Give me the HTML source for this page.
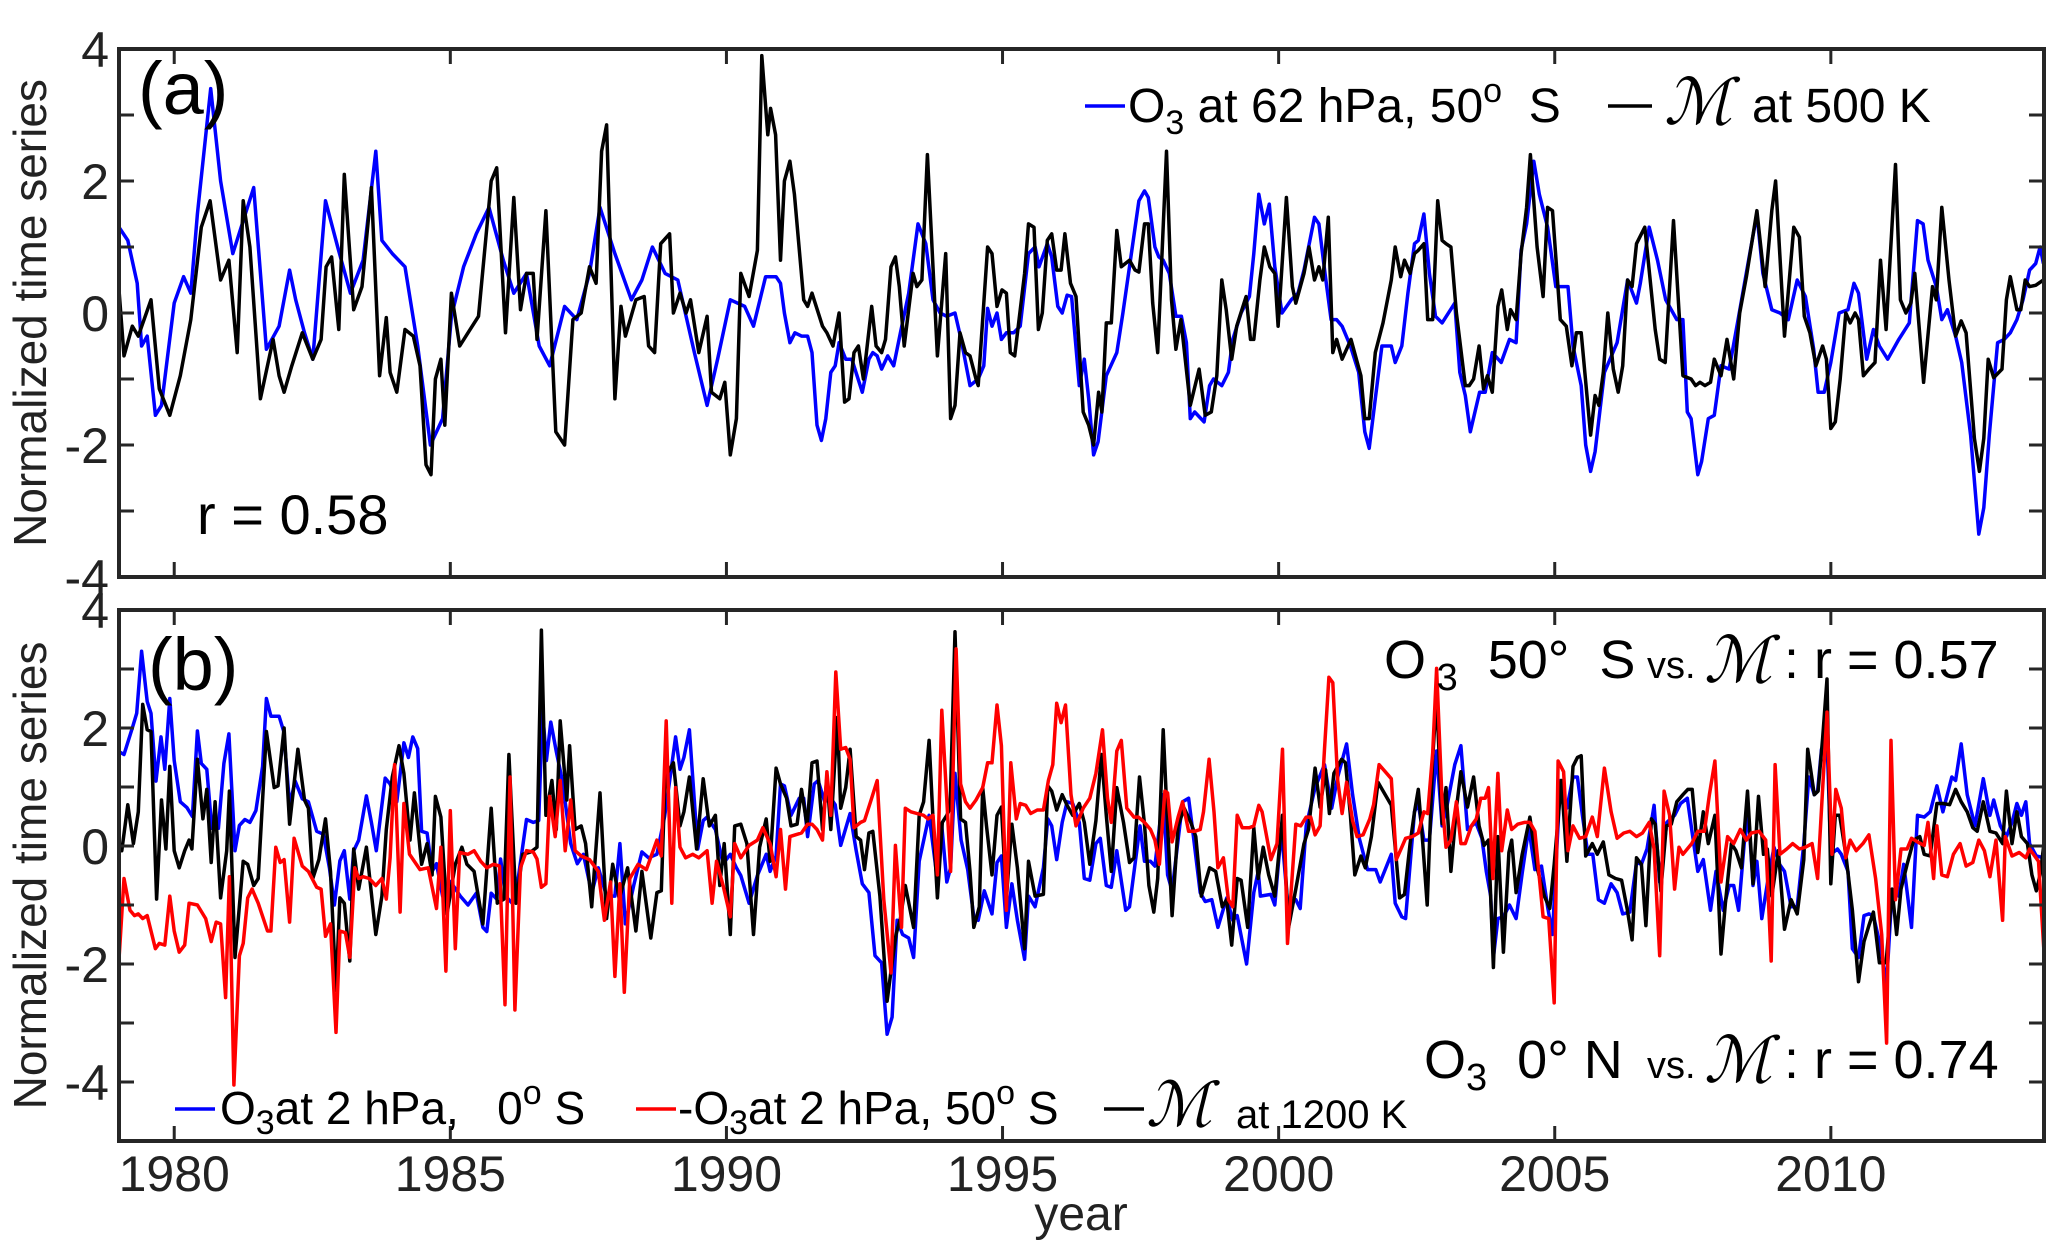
<!DOCTYPE html>
<html><head><meta charset="utf-8"><style>
html,body{margin:0;padding:0;background:#fff;}
svg{display:block;font-family:"Liberation Sans",Arial,sans-serif;}
</style></head><body>
<svg id="chart" width="2067" height="1258" viewBox="0 0 2067 1258" xmlns="http://www.w3.org/2000/svg">
<rect width="2067" height="1258" fill="#fff"/>
<g id="gA"></g>
<g id="gB"></g>
</svg>
<script>
const xTicks=[1980,1985,1990,1995,2000,2005,2010];
const yTicksMajor=[-4,-2,0,2,4];
const yTicksMinor=[-3,-1,1,3];
const aBlue=[[1979.0,1.3],[1979.16,1.1],[1979.33,0.45],[1979.41,-0.5],[1979.51,-0.35],[1979.66,-1.55],[1979.77,-1.4],[1980.0,0.15],[1980.17,0.55],[1980.30,0.3],[1980.42,1.5],[1980.66,3.4],[1980.84,2.0],[1981.06,0.9],[1981.44,1.9],[1981.67,-0.55],[1981.90,-0.2],[1982.09,0.65],[1982.20,0.2],[1982.36,-0.3],[1982.51,-0.7],[1982.74,1.7],[1982.96,1.0],[1983.19,0.3],[1983.42,0.8],[1983.65,2.45],[1983.76,1.1],[1983.95,0.9],[1984.18,0.7],[1984.41,-0.5],[1984.64,-2.0],[1984.86,-1.6],[1985.02,-0.05],[1985.24,0.7],[1985.47,1.2],[1985.70,1.6],[1985.96,0.8],[1986.15,0.3],[1986.38,0.6],[1986.61,-0.5],[1986.80,-0.8],[1987.07,0.1],[1987.29,-0.1],[1987.52,0.6],[1987.71,1.6],[1987.98,0.9],[1988.28,0.2],[1988.47,0.5],[1988.66,1.0],[1988.89,0.6],[1989.12,0.5],[1989.42,-0.6],[1989.65,-1.4],[1989.84,-0.7],[1990.07,0.2],[1990.33,0.1],[1990.49,-0.2],[1990.71,0.55],[1990.90,0.55],[1990.98,0.45],[1991.05,0.0],[1991.15,-0.45],[1991.24,-0.3],[1991.36,-0.35],[1991.47,-0.35],[1991.55,-0.6],[1991.64,-1.7],[1991.72,-1.93],[1991.80,-1.6],[1991.89,-0.9],[1991.97,-0.8],[1992.04,-0.45],[1992.16,-0.7],[1992.27,-0.7],[1992.46,-1.2],[1992.58,-0.7],[1992.65,-0.6],[1992.73,-0.65],[1992.81,-0.85],[1992.92,-0.65],[1993.03,-0.8],[1993.15,-0.3],[1993.30,0.3],[1993.47,1.35],[1993.61,1.05],[1993.74,0.2],[1993.87,0.0],[1993.99,-0.05],[1994.14,0.0],[1994.25,-0.4],[1994.41,-1.1],[1994.56,-1.0],[1994.66,-0.8],[1994.73,0.07],[1994.81,-0.2],[1994.90,0.0],[1994.98,-0.4],[1995.07,-0.3],[1995.20,-0.3],[1995.32,-0.2],[1995.47,0.9],[1995.59,1.0],[1995.66,0.7],[1995.81,1.05],[1995.89,0.85],[1996.00,0.1],[1996.08,0.0],[1996.17,0.27],[1996.25,0.25],[1996.39,-1.1],[1996.48,-0.7],[1996.56,-1.3],[1996.65,-2.15],[1996.73,-1.95],[1996.88,-0.95],[1997.07,-0.6],[1997.18,0.0],[1997.30,0.7],[1997.47,1.7],[1997.57,1.85],[1997.64,1.75],[1997.76,1.0],[1997.83,0.85],[1997.91,0.8],[1998.02,0.6],[1998.14,-0.05],[1998.24,-0.05],[1998.33,-0.45],[1998.40,-1.6],[1998.48,-1.5],[1998.65,-1.65],[1998.75,-1.1],[1998.82,-1.0],[1998.97,-1.1],[1999.09,-0.9],[1999.17,-0.4],[1999.32,0.0],[1999.47,0.25],[1999.55,0.9],[1999.64,1.8],[1999.74,1.35],[1999.83,1.65],[1999.93,0.7],[2000.06,0.0],[2000.23,0.2],[2000.35,0.3],[2000.46,0.65],[2000.65,1.45],[2000.73,1.35],[2000.84,0.6],[2000.95,-0.1],[2001.05,-0.1],[2001.15,-0.2],[2001.30,-0.5],[2001.45,-0.9],[2001.56,-1.8],[2001.64,-2.05],[2001.75,-1.3],[2001.87,-0.5],[2002.04,-0.5],[2002.11,-0.75],[2002.23,-0.5],[2002.34,0.3],[2002.46,1.05],[2002.53,1.1],[2002.63,1.5],[2002.73,0.6],[2002.84,-0.05],[2002.96,-0.15],[2003.19,0.15],[2003.28,-0.9],[2003.38,-1.25],[2003.47,-1.8],[2003.64,-1.2],[2003.74,-1.2],[2003.87,-0.6],[2004.03,-0.75],[2004.18,-0.4],[2004.30,-0.45],[2004.39,0.95],[2004.49,1.35],[2004.62,2.3],[2004.72,1.8],[2004.87,1.3],[2005.02,0.4],[2005.24,0.4],[2005.33,-0.5],[2005.48,-1.1],[2005.56,-2.0],[2005.65,-2.4],[2005.73,-2.1],[2005.90,-0.9],[2006.13,-0.45],[2006.32,0.5],[2006.48,0.15],[2006.55,0.45],[2006.71,1.3],[2006.86,0.8],[2007.01,0.2],[2007.21,-0.1],[2007.32,-0.1],[2007.40,-1.5],[2007.47,-1.6],[2007.59,-2.45],[2007.66,-2.25],[2007.78,-1.6],[2007.89,-1.55],[2008.01,-0.8],[2008.16,-0.85],[2008.32,-0.1],[2008.51,0.8],[2008.66,1.5],[2008.77,0.6],[2008.93,0.05],[2009.08,0.0],[2009.23,-0.1],[2009.39,0.5],[2009.54,0.25],[2009.69,-0.55],[2009.77,-1.2],[2009.88,-1.2],[2010.00,-0.75],[2010.15,0.0],[2010.31,0.05],[2010.42,0.45],[2010.50,0.3],[2010.65,-0.7],[2010.77,-0.25],[2010.88,-0.5],[2011.03,-0.7],[2011.23,-0.4],[2011.42,-0.15],[2011.57,1.4],[2011.67,1.35],[2011.76,0.8],[2011.91,0.4],[2012.01,-0.1],[2012.11,0.05],[2012.26,-0.35],[2012.37,-0.75],[2012.53,-1.85],[2012.68,-3.35],[2012.77,-2.95],[2012.87,-1.85],[2013.02,-0.45],[2013.14,-0.4],[2013.25,-0.3],[2013.37,-0.1],[2013.48,0.2],[2013.60,0.65],[2013.71,0.75],[2013.79,1.0],[2013.85,0.75]];
const aBlack=[[1979.0,0.35],[1979.09,-0.65],[1979.24,-0.2],[1979.35,-0.35],[1979.58,0.2],[1979.73,-1.15],[1979.92,-1.55],[1980.11,-0.95],[1980.30,-0.1],[1980.49,1.3],[1980.65,1.7],[1980.84,0.5],[1980.99,0.8],[1981.14,-0.6],[1981.25,1.7],[1981.37,1.0],[1981.56,-1.3],[1981.79,-0.4],[1981.90,-0.95],[1981.99,-1.2],[1982.13,-0.8],[1982.32,-0.3],[1982.51,-0.7],[1982.66,-0.4],[1982.75,0.7],[1982.85,0.85],[1982.98,-0.25],[1983.08,2.1],[1983.25,0.05],[1983.40,0.4],[1983.57,1.9],[1983.72,-0.95],[1983.84,-0.07],[1983.91,-0.9],[1984.03,-1.2],[1984.18,-0.25],[1984.33,-0.35],[1984.45,-0.8],[1984.56,-2.3],[1984.65,-2.45],[1984.73,-1.0],[1984.83,-0.7],[1984.90,-1.7],[1985.02,0.3],[1985.17,-0.5],[1985.32,-0.3],[1985.51,-0.05],[1985.74,2.0],[1985.84,2.2],[1986.00,-0.3],[1986.15,1.75],[1986.27,0.05],[1986.38,0.6],[1986.50,0.6],[1986.57,-0.4],[1986.73,1.55],[1986.91,-1.8],[1987.07,-2.0],[1987.22,-0.1],[1987.37,0.0],[1987.52,0.7],[1987.64,0.45],[1987.74,2.45],[1987.83,2.85],[1987.98,-1.3],[1988.09,0.1],[1988.17,-0.35],[1988.36,0.2],[1988.51,0.25],[1988.59,-0.5],[1988.70,-0.6],[1988.81,1.05],[1988.97,1.2],[1989.04,0.0],[1989.16,0.3],[1989.27,0.0],[1989.35,0.2],[1989.50,-0.6],[1989.65,-0.05],[1989.73,-1.2],[1989.88,-1.3],[1989.97,-1.05],[1990.07,-2.15],[1990.18,-1.6],[1990.26,0.6],[1990.41,0.25],[1990.56,0.95],[1990.64,3.9],[1990.75,2.7],[1990.80,3.1],[1990.89,2.7],[1990.98,0.8],[1991.05,2.0],[1991.15,2.3],[1991.23,1.8],[1991.40,0.2],[1991.47,0.1],[1991.55,0.3],[1991.74,-0.2],[1991.82,-0.3],[1991.93,-0.5],[1992.04,0.0],[1992.14,-1.35],[1992.22,-1.3],[1992.31,-0.6],[1992.39,-0.5],[1992.48,-1.0],[1992.63,0.1],[1992.71,-0.5],[1992.81,-0.6],[1992.88,-0.4],[1992.98,0.7],[1993.06,0.85],[1993.13,0.4],[1993.22,-0.5],[1993.38,0.6],[1993.45,0.4],[1993.54,0.5],[1993.64,2.4],[1993.82,-0.65],[1993.97,0.9],[1994.06,-1.6],[1994.14,-1.4],[1994.23,-0.3],[1994.33,-0.6],[1994.41,-0.65],[1994.52,-1.0],[1994.56,-1.1],[1994.73,1.0],[1994.81,0.9],[1994.90,0.1],[1994.99,0.35],[1995.07,0.3],[1995.14,-0.6],[1995.22,-0.65],[1995.40,0.6],[1995.47,1.35],[1995.57,1.3],[1995.65,-0.25],[1995.72,0.0],[1995.81,1.1],[1995.89,1.2],[1995.98,0.65],[1996.06,0.65],[1996.13,1.2],[1996.23,0.45],[1996.33,0.25],[1996.46,-1.5],[1996.56,-1.7],[1996.65,-2.0],[1996.74,-1.2],[1996.80,-1.5],[1996.88,-0.15],[1996.97,-0.15],[1997.07,1.25],[1997.15,0.7],[1997.30,0.8],[1997.40,0.65],[1997.47,0.62],[1997.57,1.35],[1997.64,1.35],[1997.72,0.15],[1997.81,-0.6],[1997.97,2.45],[1998.06,0.2],[1998.14,-0.55],[1998.23,-0.1],[1998.40,-1.4],[1998.56,-0.85],[1998.67,-1.55],[1998.78,-1.5],[1998.88,-0.95],[1998.97,0.5],[1999.05,0.05],[1999.15,-0.7],[1999.24,-0.2],[1999.41,0.25],[1999.49,-0.4],[1999.55,-0.4],[1999.66,0.5],[1999.74,1.0],[1999.84,0.7],[1999.93,0.6],[1999.99,-0.2],[2000.14,1.75],[2000.25,0.4],[2000.31,0.15],[2000.46,0.6],[2000.55,1.0],[2000.65,0.5],[2000.73,0.7],[2000.80,0.5],[2000.90,1.45],[2000.98,-0.6],[2001.05,-0.4],[2001.15,-0.7],[2001.31,-0.4],[2001.49,-0.95],[2001.56,-1.6],[2001.64,-1.6],[2001.75,-0.6],[2001.89,-0.15],[2002.04,0.5],[2002.11,1.0],[2002.21,0.55],[2002.28,0.8],[2002.38,0.6],[2002.46,0.9],[2002.53,0.95],[2002.63,1.05],[2002.70,-0.1],[2002.79,-0.1],[2002.88,1.7],[2002.96,1.1],[2003.03,1.05],[2003.12,1.0],[2003.22,0.0],[2003.38,-1.1],[2003.45,-1.1],[2003.53,-1.0],[2003.63,-0.5],[2003.71,-1.15],[2003.78,-0.95],[2003.87,-1.2],[2003.97,0.1],[2004.04,0.35],[2004.14,-0.25],[2004.20,0.05],[2004.30,-0.1],[2004.39,0.9],[2004.49,1.6],[2004.56,2.4],[2004.68,1.0],[2004.79,0.25],[2004.87,1.6],[2004.96,1.55],[2005.10,-0.1],[2005.21,-0.2],[2005.31,-0.8],[2005.39,-0.3],[2005.48,-0.3],[2005.65,-1.85],[2005.73,-1.25],[2005.80,-1.4],[2005.88,-0.9],[2005.96,0.0],[2006.06,-0.85],[2006.15,-1.2],[2006.23,-0.8],[2006.32,0.5],[2006.40,0.4],[2006.48,1.05],[2006.63,1.3],[2006.82,-0.25],[2006.90,-0.7],[2007.00,-0.75],[2007.15,1.4],[2007.26,-0.1],[2007.32,-0.95],[2007.47,-1.0],[2007.55,-1.1],[2007.63,-1.05],[2007.72,-1.1],[2007.82,-1.05],[2007.89,-0.7],[2008.01,-0.95],[2008.12,-0.4],[2008.24,-1.0],[2008.35,0.0],[2008.47,0.55],[2008.66,1.55],[2008.81,0.4],[2008.93,1.55],[2009.00,2.0],[2009.16,-0.35],[2009.33,1.3],[2009.43,1.15],[2009.52,-0.05],[2009.62,-0.3],[2009.73,-0.8],[2009.85,-0.5],[2009.92,-0.7],[2010.00,-1.75],[2010.08,-1.65],[2010.17,-1.0],[2010.27,0.0],[2010.35,-0.15],[2010.44,0.0],[2010.50,-0.1],[2010.59,-0.95],[2010.69,-0.85],[2010.80,-0.75],[2010.90,0.8],[2011.00,-0.25],[2011.17,2.25],[2011.26,0.2],[2011.36,0.0],[2011.45,0.15],[2011.52,0.6],[2011.68,-1.05],[2011.84,0.4],[2011.91,0.2],[2012.01,1.6],[2012.14,0.5],[2012.26,-0.35],[2012.36,-0.12],[2012.45,-0.3],[2012.60,-1.9],[2012.69,-2.4],[2012.77,-1.9],[2012.85,-0.7],[2012.95,-0.98],[2013.10,-0.85],[2013.18,0.2],[2013.25,0.55],[2013.37,0.05],[2013.44,0.05],[2013.52,0.5],[2013.60,0.4],[2013.71,0.42],[2013.85,0.5]];
const bBlue=[[1979.0,1.6],[1979.09,1.55],[1979.24,2.0],[1979.32,2.25],[1979.41,3.3],[1979.51,2.45],[1979.58,2.25],[1979.67,1.1],[1979.76,1.85],[1979.83,1.3],[1979.92,2.5],[1980.0,1.45],[1980.11,0.75],[1980.23,0.65],[1980.33,0.5],[1980.42,1.95],[1980.49,1.4],[1980.59,1.3],[1980.68,0.3],[1980.80,0.3],[1980.90,1.4],[1980.99,1.9],[1981.10,-0.08],[1981.18,0.35],[1981.28,0.45],[1981.37,0.4],[1981.48,0.6],[1981.60,1.35],[1981.67,2.5],[1981.75,2.2],[1981.90,2.2],[1981.98,1.95],[1982.09,0.7],[1982.19,1.1],[1982.32,0.8],[1982.43,0.75],[1982.58,0.25],[1982.70,0.2],[1982.81,-0.37],[1982.90,-1.0],[1983.00,-0.25],[1983.08,-0.08],[1983.18,-0.9],[1983.25,-0.08],[1983.34,0.1],[1983.48,0.85],[1983.57,0.4],[1983.66,-0.08],[1983.82,1.15],[1983.91,1.05],[1984.03,0.75],[1984.16,1.75],[1984.24,1.5],[1984.32,1.85],[1984.41,1.65],[1984.48,0.25],[1984.58,0.22],[1984.67,-0.43],[1984.75,-0.3],[1984.86,-0.85],[1985.00,-0.6],[1985.18,-0.85],[1985.32,-1.0],[1985.47,-0.8],[1985.59,-1.38],[1985.66,-1.45],[1985.74,-0.8],[1985.84,-0.9],[1985.91,-0.22],[1986.00,-0.85],[1986.12,-0.97],[1986.23,-0.55],[1986.38,0.45],[1986.50,0.4],[1986.60,0.43],[1986.67,2.3],[1986.74,1.45],[1986.82,2.1],[1986.92,1.6],[1987.03,1.1],[1987.18,0.04],[1987.30,-0.3],[1987.41,-0.14],[1987.56,-0.8],[1987.68,-0.37],[1987.83,-0.85],[1987.98,-0.85],[1988.07,0.04],[1988.17,-1.32],[1988.32,-0.67],[1988.47,-0.1],[1988.59,-0.2],[1988.74,-0.14],[1988.88,0.5],[1988.97,1.1],[1989.08,1.85],[1989.16,1.3],[1989.23,1.5],[1989.33,1.97],[1989.48,-0.05],[1989.58,0.43],[1989.65,0.49],[1989.80,0.28],[1989.94,-0.3],[1990.07,-0.14],[1990.18,-0.37],[1990.26,-0.5],[1990.41,-0.97],[1990.56,-0.5],[1990.72,-0.14],[1990.79,-0.43],[1990.90,-0.17],[1990.98,1.05],[1991.05,1.02],[1991.17,0.52],[1991.32,0.81],[1991.40,0.81],[1991.47,0.16],[1991.59,1.05],[1991.66,1.11],[1991.78,0.75],[1991.89,0.81],[1991.97,0.7],[1992.07,0.01],[1992.24,0.55],[1992.35,-0.08],[1992.46,-0.64],[1992.58,-0.79],[1992.69,-1.86],[1992.81,-1.98],[1992.91,-3.19],[1993.00,-2.9],[1993.09,-1.26],[1993.19,-1.5],[1993.30,-1.56],[1993.39,-1.89],[1993.49,-0.26],[1993.67,0.52],[1993.80,-0.43],[1993.90,0.34],[1993.99,-0.61],[1994.06,-0.37],[1994.14,1.23],[1994.25,0.1],[1994.37,-0.4],[1994.48,-1.2],[1994.56,-1.26],[1994.67,-0.76],[1994.81,-1.15],[1994.90,-0.28],[1994.98,-0.17],[1995.07,-1.38],[1995.17,-0.64],[1995.27,-1.26],[1995.40,-1.92],[1995.47,-0.85],[1995.59,-1.03],[1995.74,-0.37],[1995.82,0.46],[1995.89,0.34],[1995.98,-0.23],[1996.08,0.4],[1996.17,0.75],[1996.27,0.72],[1996.39,0.4],[1996.48,-0.55],[1996.58,-0.58],[1996.69,0.04],[1996.77,0.13],[1996.88,-0.67],[1996.97,-0.7],[1997.07,-0.08],[1997.23,-1.09],[1997.30,-1.03],[1997.49,0.34],[1997.57,-0.26],[1997.68,-0.26],[1997.76,-0.34],[1997.91,0.87],[1997.99,-0.49],[1998.07,-0.76],[1998.26,0.75],[1998.37,0.81],[1998.45,0.22],[1998.58,-0.79],[1998.67,-0.94],[1998.79,-0.91],[1998.90,-1.38],[1999.06,-0.88],[1999.17,-1.26],[1999.25,-1.18],[1999.42,-2.0],[1999.55,-0.79],[1999.63,-0.43],[1999.67,-0.85],[1999.86,-0.82],[1999.93,-1.0],[2000.05,0.28],[2000.16,-0.94],[2000.31,-0.91],[2000.39,-1.06],[2000.50,0.34],[2000.66,0.99],[2000.83,1.38],[2000.96,0.64],[2001.07,1.17],[2001.23,1.73],[2001.34,0.87],[2001.46,0.13],[2001.61,-0.4],[2001.76,-0.4],[2001.84,-0.61],[2002.04,-0.14],[2002.11,-0.97],[2002.23,-1.2],[2002.30,-1.23],[2002.38,-0.31],[2002.46,0.58],[2002.53,0.72],[2002.63,0.1],[2002.73,0.1],[2002.86,1.61],[2002.96,0.34],[2003.05,0.69],[2003.19,1.38],[2003.30,1.7],[2003.42,0.28],[2003.57,0.4],[2003.68,0.13],[2003.76,-0.43],[2003.84,-0.85],[2003.89,-1.89],[2003.97,-1.23],[2004.07,-1.2],[2004.18,-1.0],[2004.30,-1.23],[2004.41,-0.46],[2004.53,0.31],[2004.64,-0.4],[2004.76,-0.34],[2004.87,-1.03],[2004.96,-1.5],[2005.10,1.11],[2005.22,0.64],[2005.33,1.17],[2005.41,1.17],[2005.50,0.52],[2005.60,-0.14],[2005.69,-0.14],[2005.79,-0.91],[2005.90,-0.97],[2006.02,-0.64],[2006.13,-0.79],[2006.23,-1.15],[2006.36,-1.12],[2006.48,-0.28],[2006.57,-0.31],[2006.67,-0.05],[2006.80,0.69],[2006.90,-0.61],[2007.03,0.4],[2007.17,0.52],[2007.28,0.72],[2007.40,0.81],[2007.48,0.28],[2007.59,-0.43],[2007.69,-0.23],[2007.82,-1.09],[2007.92,-0.43],[2008.05,-1.09],[2008.16,-0.67],[2008.24,-0.67],[2008.33,-1.09],[2008.43,0.04],[2008.51,0.52],[2008.59,-0.67],[2008.66,-0.26],[2008.75,-1.23],[2008.85,-0.64],[2008.97,-0.02],[2009.07,-0.31],[2009.16,-0.43],[2009.28,-1.03],[2009.39,-1.03],[2009.51,0.04],[2009.60,1.17],[2009.70,0.87],[2009.76,0.93],[2009.83,1.64],[2009.93,1.82],[2010.00,-0.14],[2010.12,-0.05],[2010.19,-0.14],[2010.31,-0.43],[2010.39,-1.74],[2010.50,-1.89],[2010.60,-1.18],[2010.69,-1.15],[2010.77,-1.18],[2010.88,-1.62],[2011.01,-2.33],[2011.11,-0.73],[2011.23,-0.85],[2011.32,-0.31],[2011.46,-1.38],[2011.57,0.52],[2011.69,0.49],[2011.80,0.58],[2011.92,1.02],[2012.03,0.58],[2012.19,1.17],[2012.26,1.11],[2012.36,1.73],[2012.47,0.87],[2012.61,0.34],[2012.76,1.14],[2012.88,0.52],[2012.95,0.78],[2013.07,0.34],[2013.18,0.16],[2013.28,0.4],[2013.37,0.72],[2013.45,0.52],[2013.53,0.75],[2013.60,0.04],[2013.72,-0.17],[2013.86,-0.2]];
const bBlack=[[1979.0,-0.05],[1979.05,-0.08],[1979.16,0.7],[1979.26,0.04],[1979.35,0.58],[1979.43,2.4],[1979.51,1.97],[1979.58,1.94],[1979.68,-0.9],[1979.77,0.78],[1979.85,-0.05],[1979.92,1.35],[1980.0,-0.08],[1980.09,-0.37],[1980.19,-0.08],[1980.27,0.1],[1980.32,-0.05],[1980.42,1.47],[1980.52,0.46],[1980.59,0.96],[1980.67,-0.28],[1980.74,0.75],[1980.84,-0.88],[1980.95,-0.08],[1981.0,0.93],[1981.10,-1.89],[1981.25,-0.26],[1981.33,-0.31],[1981.44,-0.67],[1981.52,-0.55],[1981.67,1.94],[1981.81,0.99],[1981.88,1.02],[1981.99,2.0],[1982.09,0.37],[1982.24,1.64],[1982.36,0.78],[1982.43,0.64],[1982.51,-0.55],[1982.62,-0.23],[1982.74,0.46],[1982.83,-0.43],[1982.93,-2.45],[1983.0,-0.88],[1983.08,-0.97],[1983.18,-1.95],[1983.25,-0.05],[1983.34,-0.73],[1983.48,-0.02],[1983.65,-1.5],[1983.76,-0.85],[1983.84,0.28],[1983.95,1.17],[1984.07,1.7],[1984.16,1.23],[1984.27,0.1],[1984.35,0.9],[1984.48,-0.31],[1984.58,0.04],[1984.67,-0.49],[1984.73,0.84],[1984.83,0.49],[1984.94,-1.15],[1985.09,-0.31],[1985.21,-0.02],[1985.30,-0.31],[1985.43,-0.43],[1985.59,-1.32],[1985.74,0.64],[1985.85,-0.97],[1985.97,-0.9],[1986.06,1.55],[1986.19,-0.97],[1986.31,-0.14],[1986.46,-0.1],[1986.57,-0.02],[1986.65,3.66],[1986.73,0.52],[1986.84,1.11],[1986.92,0.28],[1986.99,2.12],[1987.11,0.78],[1987.16,1.7],[1987.26,0.28],[1987.37,0.34],[1987.45,0.04],[1987.56,-1.03],[1987.71,0.9],[1987.83,-1.23],[1987.94,-0.31],[1988.06,-0.9],[1988.21,-0.37],[1988.36,-1.44],[1988.47,-0.43],[1988.63,-1.56],[1988.74,-0.79],[1988.82,-0.76],[1988.89,1.17],[1989.04,1.41],[1989.16,0.34],[1989.23,0.58],[1989.33,1.17],[1989.46,-0.05],[1989.58,1.14],[1989.69,0.34],[1989.80,0.52],[1989.88,-0.67],[1989.96,0.04],[1990.07,-1.5],[1990.15,0.34],[1990.26,0.37],[1990.37,0.04],[1990.49,-1.5],[1990.60,-0.02],[1990.72,0.46],[1990.79,-0.26],[1990.90,1.32],[1990.98,1.05],[1991.09,0.81],[1991.17,0.34],[1991.28,0.37],[1991.36,0.96],[1991.46,0.34],[1991.55,1.41],[1991.64,1.44],[1991.74,0.28],[1991.82,1.17],[1991.89,0.28],[1992.01,2.18],[1992.07,0.64],[1992.16,0.99],[1992.24,1.64],[1992.35,0.16],[1992.43,0.1],[1992.50,-0.4],[1992.58,0.22],[1992.65,0.25],[1992.78,-0.85],[1992.91,-2.63],[1992.98,-2.12],[1993.07,-1.5],[1993.15,-1.23],[1993.24,-0.67],[1993.39,-1.38],[1993.49,0.52],[1993.57,0.75],[1993.67,1.79],[1993.74,0.46],[1993.82,-0.88],[1993.91,0.4],[1993.99,0.52],[1994.05,0.64],[1994.14,3.63],[1994.24,0.46],[1994.33,0.4],[1994.41,-0.43],[1994.48,-1.38],[1994.58,-1.03],[1994.64,0.99],[1994.71,0.34],[1994.81,-0.49],[1994.90,0.52],[1994.98,0.66],[1995.07,-0.88],[1995.17,0.37],[1995.27,-0.37],[1995.40,-1.74],[1995.47,-0.26],[1995.59,-0.85],[1995.74,-0.82],[1995.82,1.02],[1995.89,0.93],[1995.98,0.61],[1996.08,0.87],[1996.17,0.69],[1996.27,0.52],[1996.39,0.72],[1996.48,0.4],[1996.58,-0.31],[1996.69,0.43],[1996.79,1.55],[1996.88,0.52],[1996.97,-0.43],[1997.07,0.99],[1997.19,0.4],[1997.30,-0.28],[1997.38,-0.2],[1997.48,1.17],[1997.57,0.37],[1997.65,-0.67],[1997.74,-1.12],[1997.81,-0.55],[1997.91,1.97],[1997.99,0.34],[1998.07,-1.18],[1998.18,0.34],[1998.29,0.64],[1998.41,0.4],[1998.50,0.16],[1998.60,-0.85],[1998.75,-0.37],[1998.86,-0.43],[1998.98,-1.03],[1999.06,-0.91],[1999.15,-1.68],[1999.25,-0.55],[1999.32,-0.58],[1999.44,-1.38],[1999.55,0.31],[1999.63,-0.55],[1999.72,-0.02],[1999.82,-0.49],[1999.93,-0.85],[2000.07,0.52],[2000.18,-1.38],[2000.31,-0.73],[2000.46,0.04],[2000.54,0.28],[2000.66,1.32],[2000.75,0.66],[2000.85,1.29],[2000.92,0.55],[2001.0,1.23],[2001.14,1.47],[2001.21,1.41],[2001.30,0.52],[2001.38,-0.49],[2001.49,-0.17],[2001.57,-0.37],[2001.68,0.16],[2001.80,1.08],[2002.04,0.69],[2002.11,-0.02],[2002.19,-0.88],[2002.28,-0.82],[2002.38,0.04],[2002.46,0.58],[2002.53,0.96],[2002.61,0.04],[2002.69,-1.0],[2002.79,1.5],[2002.86,2.53],[2002.96,0.38],[2003.03,0.99],[2003.12,-0.43],[2003.22,0.64],[2003.30,1.26],[2003.42,0.66],[2003.53,1.17],[2003.63,0.34],[2003.72,0.01],[2003.80,0.1],[2003.89,-2.06],[2003.97,0.16],[2004.07,-1.8],[2004.17,-0.11],[2004.22,0.1],[2004.30,-0.79],[2004.41,-0.14],[2004.55,0.49],[2004.68,-0.37],[2004.81,-0.85],[2004.91,-1.06],[2004.99,-0.31],[2005.12,1.11],[2005.22,-0.26],[2005.33,1.35],[2005.41,1.5],[2005.48,1.53],[2005.56,-0.17],[2005.68,0.04],[2005.77,-0.14],[2005.88,0.07],[2005.98,-0.49],[2006.10,-0.55],[2006.21,-0.58],[2006.31,-1.06],[2006.40,-1.59],[2006.48,-0.2],[2006.57,-0.31],[2006.65,-1.35],[2006.75,0.46],[2006.82,0.37],[2006.92,-0.76],[2007.02,0.34],[2007.11,0.37],[2007.21,0.75],[2007.32,0.87],[2007.41,0.96],[2007.49,0.96],[2007.59,-0.11],[2007.69,0.58],[2007.78,0.04],[2007.90,0.52],[2008.01,-1.83],[2008.09,-0.97],[2008.20,0.04],[2008.28,-0.08],[2008.38,-0.37],[2008.49,0.93],[2008.59,-0.64],[2008.69,0.84],[2008.78,-0.14],[2008.85,-0.05],[2008.93,-0.85],[2009.05,-0.08],[2009.16,-1.41],[2009.28,-0.91],[2009.39,-1.15],[2009.51,-0.23],[2009.58,1.64],[2009.70,0.87],[2009.77,0.93],[2009.85,1.82],[2009.93,2.83],[2010.0,-0.64],[2010.08,0.52],[2010.16,0.52],[2010.27,-0.14],[2010.39,-1.09],[2010.50,-2.3],[2010.60,-1.62],[2010.69,-1.35],[2010.77,-1.12],[2010.88,-1.98],[2011.0,-1.98],[2011.11,-0.73],[2011.19,-1.5],[2011.27,-0.73],[2011.38,-0.31],[2011.50,0.1],[2011.61,0.16],[2011.69,-0.14],[2011.80,-0.17],[2011.92,0.72],[2012.03,0.72],[2012.15,0.7],[2012.26,0.96],[2012.36,0.75],[2012.47,0.58],[2012.57,0.31],[2012.65,0.25],[2012.76,0.75],[2012.88,0.25],[2012.99,0.22],[2013.11,0.04],[2013.18,0.93],[2013.28,0.04],[2013.37,0.58],[2013.45,0.16],[2013.56,0.04],[2013.64,-0.49],[2013.72,-0.76],[2013.79,-0.49],[2013.86,0.04]];
const bRed=[[1979.0,-1.92],[1979.09,-0.55],[1979.20,-1.09],[1979.28,-1.18],[1979.35,-1.15],[1979.43,-1.23],[1979.51,-1.18],[1979.66,-1.74],[1979.73,-1.65],[1979.83,-1.68],[1979.92,-0.85],[1980.0,-1.44],[1980.09,-1.8],[1980.19,-1.68],[1980.27,-0.97],[1980.42,-1.0],[1980.57,-1.23],[1980.67,-1.62],[1980.76,-1.29],[1980.84,-1.32],[1980.93,-2.57],[1981.0,-0.52],[1981.08,-4.05],[1981.18,-1.86],[1981.25,-1.65],[1981.33,-0.88],[1981.41,-0.73],[1981.52,-0.97],[1981.69,-1.44],[1981.75,-1.44],[1981.84,-0.02],[1981.92,-0.28],[1981.99,-0.23],[1982.09,-1.29],[1982.17,0.13],[1982.32,-0.34],[1982.43,-0.43],[1982.58,-0.7],[1982.66,-0.73],[1982.74,-1.53],[1982.83,-1.32],[1982.93,-3.16],[1983.0,-1.44],[1983.10,-1.47],[1983.18,-1.89],[1983.27,-0.37],[1983.34,-0.55],[1983.42,-0.52],[1983.53,-0.55],[1983.65,-0.67],[1983.76,-0.55],[1983.84,-0.9],[1983.91,-0.2],[1983.99,1.38],[1984.09,-1.12],[1984.16,0.72],[1984.26,-0.14],[1984.45,-0.4],[1984.60,-0.37],[1984.75,-1.06],[1984.83,-0.02],[1984.92,-2.12],[1985.0,0.6],[1985.09,-1.74],[1985.17,-0.11],[1985.32,-0.14],[1985.43,-0.08],[1985.55,-0.26],[1985.66,-0.37],[1985.78,-0.31],[1985.89,-0.34],[1985.99,-2.69],[1986.08,1.17],[1986.17,-2.78],[1986.27,-0.37],[1986.38,-0.08],[1986.50,-0.1],[1986.57,-0.22],[1986.65,-0.7],[1986.73,-0.64],[1986.80,0.84],[1986.90,0.16],[1986.99,1.11],[1987.08,-0.08],[1987.18,0.78],[1987.26,-0.08],[1987.37,-0.17],[1987.52,-0.23],[1987.68,-0.43],[1987.79,-1.26],[1987.90,-0.61],[1987.98,-2.21],[1988.07,-0.64],[1988.15,-2.48],[1988.25,-0.55],[1988.40,-0.31],[1988.55,-0.4],[1988.74,0.1],[1988.82,-0.17],[1988.91,2.12],[1989.01,-0.97],[1989.08,0.99],[1989.16,-0.02],[1989.26,-0.2],[1989.39,-0.14],[1989.50,-0.2],[1989.65,-0.08],[1989.74,-0.97],[1989.82,-0.26],[1989.94,-0.67],[1990.07,-1.2],[1990.15,0.04],[1990.26,-0.2],[1990.41,0.01],[1990.56,0.1],[1990.66,0.31],[1990.79,0.04],[1990.90,-0.52],[1990.98,0.28],[1991.07,-0.73],[1991.15,0.16],[1991.25,0.19],[1991.36,0.22],[1991.47,0.37],[1991.55,0.37],[1991.64,0.28],[1991.74,0.1],[1991.82,1.26],[1991.89,0.52],[1991.98,2.95],[1992.07,1.64],[1992.16,1.67],[1992.24,1.47],[1992.31,0.31],[1992.43,0.4],[1992.50,0.43],[1992.62,0.78],[1992.73,1.11],[1992.85,-0.91],[1992.98,-2.15],[1993.06,0.01],[1993.17,-1.38],[1993.24,0.64],[1993.34,0.58],[1993.45,0.55],[1993.57,0.52],[1993.65,0.46],[1993.74,0.52],[1993.82,-0.49],[1993.90,2.3],[1993.99,0.78],[1994.06,-0.43],[1994.16,3.34],[1994.24,1.05],[1994.33,0.75],[1994.41,0.64],[1994.52,0.78],[1994.64,0.99],[1994.73,1.41],[1994.81,1.41],[1994.90,2.39],[1994.98,1.7],[1995.07,-1.09],[1995.15,1.41],[1995.25,0.46],[1995.32,0.72],[1995.42,0.69],[1995.51,0.55],[1995.63,0.61],[1995.74,0.61],[1995.83,1.11],[1995.91,1.38],[1995.98,2.42],[1996.06,2.09],[1996.14,2.39],[1996.24,0.87],[1996.33,0.34],[1996.46,0.64],[1996.58,0.81],[1996.69,1.23],[1996.81,1.97],[1996.90,0.81],[1996.97,0.4],[1997.07,1.61],[1997.15,1.79],[1997.25,0.64],[1997.38,0.49],[1997.46,0.49],[1997.57,0.4],[1997.68,0.28],[1997.76,0.1],[1997.84,-0.31],[1997.94,0.93],[1997.99,0.9],[1998.07,0.07],[1998.18,0.49],[1998.26,0.75],[1998.37,0.25],[1998.48,0.25],[1998.58,0.28],[1998.64,0.58],[1998.74,1.47],[1998.83,0.58],[1998.90,-0.37],[1999.00,-0.2],[1999.09,-0.91],[1999.17,-1.03],[1999.25,0.52],[1999.34,0.31],[1999.47,0.31],[1999.55,0.34],[1999.64,0.69],[1999.70,0.58],[1999.86,-0.23],[1999.97,0.04],[2000.07,1.64],[2000.16,-1.65],[2000.31,0.37],[2000.40,0.34],[2000.50,0.49],[2000.58,0.49],[2000.66,0.19],[2000.75,0.34],[2000.83,1.64],[2000.91,2.86],[2000.98,2.77],[2001.07,1.11],[2001.15,0.55],[2001.23,1.08],[2001.34,0.43],[2001.42,0.16],[2001.53,0.19],[2001.65,0.46],[2001.72,0.7],[2001.82,1.38],[2002.04,1.14],[2002.13,-0.23],[2002.23,-0.02],[2002.30,0.13],[2002.42,0.16],[2002.53,0.22],[2002.63,0.58],[2002.70,0.55],[2002.79,1.58],[2002.86,3.01],[2002.96,0.75],[2003.03,-0.02],[2003.12,0.1],[2003.22,0.75],[2003.30,0.04],[2003.38,0.04],[2003.49,0.34],[2003.58,0.46],[2003.66,0.81],[2003.74,0.81],[2003.80,0.99],[2003.88,-0.55],[2003.97,1.23],[2004.04,-0.08],[2004.14,0.61],[2004.22,0.28],[2004.33,0.37],[2004.45,0.4],[2004.55,0.4],[2004.64,0.25],[2004.79,-1.2],[2004.89,-1.23],[2004.99,-2.66],[2005.06,1.44],[2005.16,1.26],[2005.24,-0.08],[2005.33,0.34],[2005.45,0.13],[2005.56,0.16],[2005.68,0.49],[2005.77,0.16],[2005.90,1.32],[2006.02,0.58],[2006.13,0.13],[2006.25,0.22],[2006.36,0.25],[2006.48,0.16],[2006.59,0.22],[2006.71,0.4],[2006.80,-0.05],[2006.90,-1.86],[2006.98,0.93],[2007.08,0.52],[2007.17,-0.73],[2007.25,-0.02],[2007.32,-0.14],[2007.48,0.04],[2007.59,0.25],[2007.71,0.25],[2007.80,0.87],[2007.90,1.44],[2008.01,-0.61],[2008.13,0.16],[2008.24,0.04],[2008.36,0.28],[2008.47,0.1],[2008.56,0.22],[2008.70,0.25],[2008.82,0.1],[2008.92,-1.95],[2008.99,1.38],[2009.08,-0.14],[2009.20,-0.05],[2009.31,0.04],[2009.43,-0.05],[2009.54,-0.02],[2009.66,0.04],[2009.76,-0.55],[2009.85,0.96],[2009.93,2.27],[2010.02,-0.14],[2010.09,0.96],[2010.19,0.64],[2010.27,-0.2],[2010.35,0.1],[2010.46,-0.08],[2010.58,0.04],[2010.69,0.19],[2010.81,-0.55],[2010.92,-1.5],[2011.01,-3.34],[2011.09,1.79],[2011.17,-0.91],[2011.27,-0.05],[2011.38,-0.05],[2011.46,0.13],[2011.57,0.07],[2011.69,0.01],[2011.76,0.4],[2011.86,-0.55],[2011.92,0.34],[2012.01,-0.49],[2012.11,-0.52],[2012.22,-0.14],[2012.34,0.04],[2012.45,-0.34],[2012.57,-0.28],[2012.68,0.1],[2012.78,-0.08],[2012.88,-0.52],[2012.99,0.1],[2013.11,-1.26],[2013.16,0.16],[2013.28,-0.17],[2013.41,-0.11],[2013.53,-0.2],[2013.60,-0.05],[2013.76,-0.26],[2013.86,-1.8]];

const NS="http://www.w3.org/2000/svg";
const L=119,R=2044,T0=1979,T1=2013.86;
const PA={top:49,bot:577,ymin:-4,ymax:4};
const PB={top:610,bot:1141,ymin:-5,ymax:4};
function xs(t){return L+(t-T0)/(T1-T0)*(R-L);}
function ys(p,v){return p.bot-(v-p.ymin)/(p.ymax-p.ymin)*(p.bot-p.top);}
function mk(tag,parent,attrs){const e=document.createElementNS(NS,tag);for(const k in attrs)e.setAttribute(k,attrs[k]);parent.appendChild(e);return e;}

function drawPanel(g,p,series,showXLabels,pid){
  const clip=mk('clipPath',g,{id:'clip'+pid});
  mk('rect',clip,{x:L,y:p.top,width:R-L,height:p.bot-p.top});
  series.forEach(s=>{
    const d=s.data.map((pt,i)=>(i?'L':'M')+xs(pt[0]).toFixed(1)+' '+ys(p,pt[1]).toFixed(1)).join(' ');
    const path=mk('path',g,{d:d,fill:'none',stroke:s.color,'stroke-width':3.5,'stroke-linejoin':'round','clip-path':'url(#clip'+pid+')'});
    
    
  });
  const frame=mk('rect',g,{x:L,y:p.top,width:R-L,height:p.bot-p.top,fill:'none',stroke:'#262626','stroke-width':4});
  
  
  xTicks.forEach(t=>{
    const x=xs(t);
    const tb=mk('line',g,{x1:x,x2:x,y1:p.bot,y2:p.bot-15,stroke:'#262626','stroke-width':3});
    
    
    const tt=mk('line',g,{x1:x,x2:x,y1:p.top,y2:p.top+15,stroke:'#262626','stroke-width':3});
    
    
    if(showXLabels){
      const lb=mk('text',g,{x:x,y:p.bot+50,'text-anchor':'middle','font-size':50,fill:'#222'});
      lb.textContent=t;
      
      
    }
  });
  yTicksMajor.concat(yTicksMinor).forEach(v=>{
    const y=ys(p,v);
    const a=mk('line',g,{x1:L,x2:L+15,y1:y,y2:y,stroke:'#262626','stroke-width':3});
    
    
    const b=mk('line',g,{x1:R,x2:R-15,y1:y,y2:y,stroke:'#262626','stroke-width':3});
    
    
  });
  yTicksMajor.forEach(v=>{
    const lb=mk('text',g,{x:L-10,y:ys(p,v)+18,'text-anchor':'end','font-size':50,fill:'#222'});
    lb.textContent=v;
    
    
  });
  const yt=mk('text',g,{x:0,y:0,'text-anchor':'middle','font-size':46,fill:'#222',transform:'translate(46,'+((p.top+p.bot)/2)+') rotate(-90)'});
  yt.textContent='Normalized time series';
  
  
}
const gA=document.getElementById('gA'),gB=document.getElementById('gB');
drawPanel(gA,PA,[{data:aBlue,color:'#0000ff',name:'o3-62hpa-50s-line'},{data:aBlack,color:'#000',name:'m-500k-line'}],false,'A');
drawPanel(gB,PB,[{data:bBlue,color:'#0000ff',name:'o3-2hpa-0s-line'},{data:bBlack,color:'#000',name:'m-1200k-line'},{data:bRed,color:'#ff0000',name:'neg-o3-2hpa-50s-line'}],true,'B');
</script>
<svg style="position:absolute;left:0;top:0" width="2067" height="1258" viewBox="0 0 2067 1258" font-family="Liberation Sans, Arial, sans-serif">
<text x="138" y="114" font-size="74">(a)</text>
<text x="197" y="534" font-size="56">r = 0.58</text>
<g>
<line x1="1085" y1="106" x2="1125" y2="106" stroke="#0000ff" stroke-width="3.5"/>
<text x="1128" y="122" font-size="48">O<tspan font-size="34" dy="12">3</tspan><tspan dy="-12"> at 62 hPa, 50</tspan><tspan font-size="34" dy="-20">o</tspan><tspan dy="20">&#160;&#160;S</tspan></text>
<line x1="1608" y1="106" x2="1652" y2="106" stroke="#000" stroke-width="3.5"/>
<text x="1664" y="124" font-size="64" font-style="italic" font-family="DejaVu Serif, serif">ℳ</text>
<text x="1752" y="122" font-size="48">at 500 K</text>
</g>
<text x="148" y="690" font-size="74">(b)</text>
<g>
<text x="1384" y="678" font-size="54">O<tspan font-size="38" dy="12">&#160;3</tspan><tspan dy="-12">&#160;&#160;50°&#160;&#160;S</tspan></text>
<text x="1647" y="678" font-size="38">vs.</text>
<text x="1704" y="682" font-size="64" font-style="italic" font-family="DejaVu Serif, serif">ℳ</text>
<text x="1784" y="678" font-size="54">: r = 0.57</text>
</g>
<g>
<text x="1424" y="1078" font-size="54">O<tspan font-size="38" dy="12">3</tspan><tspan dy="-12">&#160;&#160;0° N</tspan></text>
<text x="1647" y="1078" font-size="38">vs.</text>
<text x="1704" y="1082" font-size="64" font-style="italic" font-family="DejaVu Serif, serif">ℳ</text>
<text x="1784" y="1078" font-size="54">: r = 0.74</text>
</g>
<g>
<line x1="175" y1="1109" x2="215" y2="1109" stroke="#0000ff" stroke-width="3.5"/>
<text x="220" y="1124" font-size="46">O<tspan font-size="34" dy="10">3</tspan><tspan dy="-10">at 2 hPa,&#160;&#160;&#160;0</tspan><tspan font-size="34" dy="-20">o</tspan><tspan dy="20">&#160;S</tspan></text>
<line x1="636" y1="1109" x2="676" y2="1109" stroke="#ff0000" stroke-width="3.5"/>
<text x="678" y="1124" font-size="46">-O<tspan font-size="34" dy="10">3</tspan><tspan dy="-10">at 2 hPa, 50</tspan><tspan font-size="34" dy="-20">o</tspan><tspan dy="20">&#160;S</tspan></text>
<line x1="1104" y1="1109" x2="1144" y2="1109" stroke="#000" stroke-width="3.5"/>
<text x="1146" y="1126" font-size="62" font-style="italic" font-family="DejaVu Serif, serif">ℳ</text>
<text x="1236" y="1128" font-size="40">at 1200 K</text>
</g>
<text x="1081" y="1230" font-size="48" text-anchor="middle" fill="#222">year</text>
</svg>
</body></html>
